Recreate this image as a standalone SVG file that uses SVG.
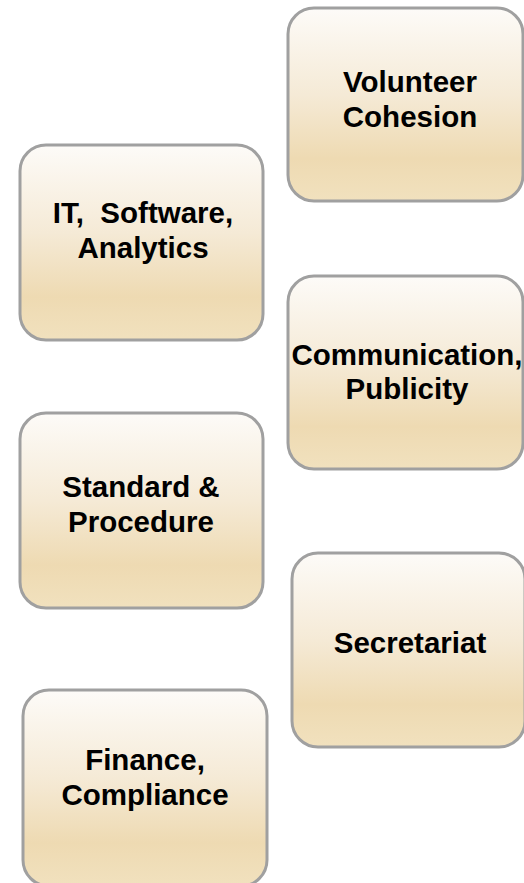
<svg xmlns="http://www.w3.org/2000/svg" width="524" height="883" viewBox="0 0 524 883">
<style>
.box{fill:url(#g);stroke:#a0a0a0;stroke-width:3}
.t{font-family:"Liberation Sans",Arial,sans-serif;font-weight:bold;font-size:29.5px;fill:#000;text-anchor:middle}
</style>
<defs>
<linearGradient id="g" x1="0" y1="0" x2="0" y2="1">
<stop offset="0" stop-color="#fdfbf8"/>
<stop offset="0.45" stop-color="#f5ead6"/>
<stop offset="0.78" stop-color="#eedab2"/>
<stop offset="1" stop-color="#f1e1be"/>
</linearGradient>
</defs>
<rect width="524" height="883" fill="#fff"/>
<g id="volunteer">
<rect class="box" x="288" y="8" width="235" height="193" rx="26"/>
<text class="t" x="410" y="92">Volunteer</text>
<text class="t" x="410" y="127">Cohesion</text>
</g>
<g id="it">
<rect class="box" x="20" y="145" width="243" height="195" rx="26"/>
<text class="t" x="143" y="223" xml:space="preserve">IT,  Software,</text>
<text class="t" x="143" y="258">Analytics</text>
</g>
<g id="communication">
<rect class="box" x="288" y="276" width="235" height="193" rx="26"/>
<text class="t" x="407" y="365">Communication,</text>
<text class="t" x="407" y="399">Publicity</text>
</g>
<g id="standard">
<rect class="box" x="20" y="413" width="243" height="195" rx="26"/>
<text class="t" x="141" y="497">Standard &amp;</text>
<text class="t" x="141" y="532">Procedure</text>
</g>
<g id="secretariat">
<rect class="box" x="292" y="553" width="233" height="194" rx="26"/>
<text class="t" x="410" y="653">Secretariat</text>
</g>
<g id="finance">
<rect class="box" x="23" y="690" width="244" height="196" rx="26"/>
<text class="t" x="145" y="770">Finance,</text>
<text class="t" x="145" y="805">Compliance</text>
</g>
<g id="connectors"></g>
</svg>
